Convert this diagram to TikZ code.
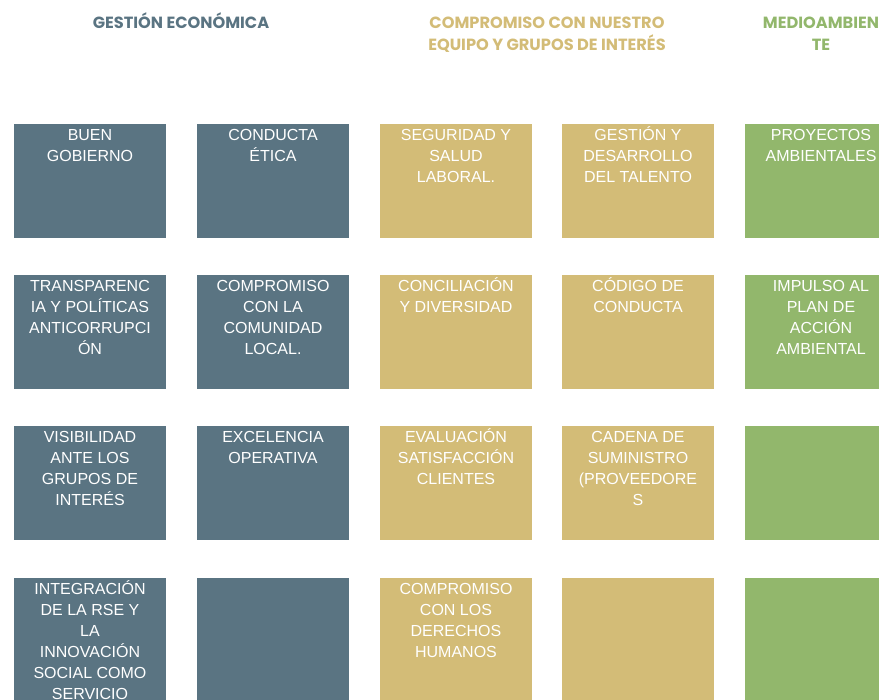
\documentclass[tikz,border=0pt]{standalone}
\usepackage{fontspec}
\setmainfont{Liberation Sans}
\newfontfamily\hdrfont{Poppins}
\definecolor{slate}{HTML}{5A7482}
\definecolor{gold}{HTML}{D3BC77}
\definecolor{leaf}{HTML}{92B76C}
\newcommand{\firststrut}{\rule{0pt}{18pt}}
\tikzset{
  cell/.style={minimum width=152pt, minimum height=114pt, inner sep=0pt, outer sep=0pt, anchor=north west, draw=none},
  slatecell/.style={cell, fill=slate},
  goldcell/.style={cell, fill=gold},
  leafcell/.style={cell, fill=leaf},
  celltext/.style={anchor=north, align=center, inner sep=0pt, text=white, font=\fontsize{16}{21}\selectfont},
  hdr/.style={anchor=north, align=center, inner sep=0pt, font=\hdrfont\bfseries\fontsize{16.2}{22}\selectfont}
}
\begin{document}
\begin{tikzpicture}[x=1pt,y=-1pt]
\useasboundingbox (0,0) rectangle (879,700);
\clip (0,0) rectangle (879,700);
% row 1
\node[slatecell] (a1) at (14,124) {};
\node[slatecell] (b1) at (197,124) {};
\node[goldcell] (c1) at (380,124) {};
\node[goldcell] (d1) at (562,124) {};
\node[leafcell] (e1) at (745,124) {};
% row 2
\node[slatecell] (a2) at (14,275) {};
\node[slatecell] (b2) at (197,275) {};
\node[goldcell] (c2) at (380,275) {};
\node[goldcell] (d2) at (562,275) {};
\node[leafcell] (e2) at (745,275) {};
% row 3
\node[slatecell] (a3) at (14,426) {};
\node[slatecell] (b3) at (197,426) {};
\node[goldcell] (c3) at (380,426) {};
\node[goldcell] (d3) at (562,426) {};
\node[leafcell] (e3) at (745,426) {};
% row 4
\node[slatecell, minimum height=140pt] (a4) at (14,578) {};
\node[slatecell, minimum height=140pt] (b4) at (197,578) {};
\node[goldcell, minimum height=140pt] (c4) at (380,578) {};
\node[goldcell, minimum height=140pt] (d4) at (562,578) {};
\node[leafcell, minimum height=140pt] (e4) at (745,578) {};
% headers (first baseline at 28)
\node[hdr, text=slate] (h1) at (181,10) {\firststrut GESTIÓN ECONÓMICA};
\node[hdr, text=gold] (h2) at (547,10) {\firststrut COMPROMISO CON NUESTRO\\EQUIPO Y GRUPOS DE INTERÉS};
\node[hdr, text=leaf] (h3) at (821,10) {\firststrut MEDIOAMBIEN\\TE};
% texts (first baseline = top + 16, node top = baseline - 18)
\node[celltext] (ta1) at (90,122) {\firststrut BUEN\\GOBIERNO};
\node[celltext] (tb1) at (273,122) {\firststrut CONDUCTA\\ÉTICA};
\node[celltext] (tc1) at (456,122) {\firststrut SEGURIDAD Y\\SALUD\\LABORAL.};
\node[celltext] (td1) at (638,122) {\firststrut GESTIÓN Y\\DESARROLLO\\DEL TALENTO};
\node[celltext] (te1) at (821,122) {\firststrut PROYECTOS\\AMBIENTALES};
\node[celltext] (ta2) at (90,273) {\firststrut TRANSPARENC\\IA Y POLÍTICAS\\ANTICORRUPCI\\ÓN};
\node[celltext] (tb2) at (273,273) {\firststrut COMPROMISO\\CON LA\\COMUNIDAD\\LOCAL.};
\node[celltext] (tc2) at (456,273) {\firststrut CONCILIACIÓN\\Y DIVERSIDAD};
\node[celltext] (td2) at (638,273) {\firststrut CÓDIGO DE\\CONDUCTA};
\node[celltext] (te2) at (821,273) {\firststrut IMPULSO AL\\PLAN DE\\ACCIÓN\\AMBIENTAL};
\node[celltext] (ta3) at (90,424) {\firststrut VISIBILIDAD\\ANTE LOS\\GRUPOS DE\\INTERÉS};
\node[celltext] (tb3) at (273,424) {\firststrut EXCELENCIA\\OPERATIVA};
\node[celltext] (tc3) at (456,424) {\firststrut EVALUACIÓN\\SATISFACCIÓN\\CLIENTES};
\node[celltext] (td3) at (638,424) {\firststrut CADENA DE\\SUMINISTRO\\(PROVEEDORE\\S};
\node[celltext] (ta4) at (90,576) {\firststrut INTEGRACIÓN\\DE LA RSE Y\\LA\\INNOVACIÓN\\SOCIAL COMO\\SERVICIO};
\node[celltext] (tc4) at (456,576) {\firststrut COMPROMISO\\CON LOS\\DERECHOS\\HUMANOS};
\end{tikzpicture}
\end{document}
